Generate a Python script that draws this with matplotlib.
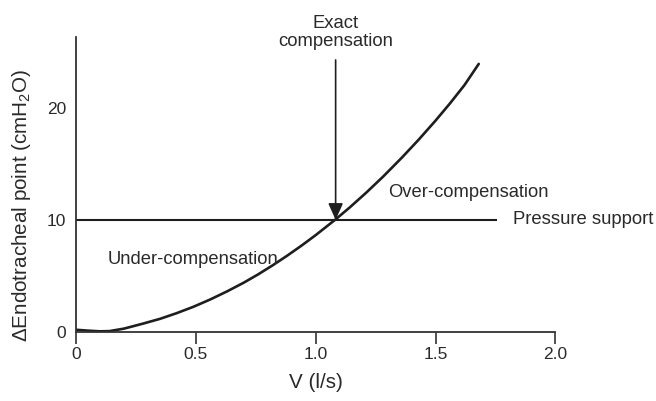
import numpy as np
import matplotlib
matplotlib.use("Agg")
import matplotlib.pyplot as plt

# values
flow = [0.0, 0.05, 0.1, 0.14, 0.2, 0.28, 0.35, 0.42, 0.49, 0.56, 0.63, 0.7, 0.76,
        0.82, 0.88, 0.94, 1.0, 1.08, 1.14, 1.21, 1.28, 1.36, 1.43, 1.5, 1.56, 1.62, 1.68]
pressure = [0.2, 0.12, 0.06, 0.08, 0.3, 0.75, 1.17, 1.68, 2.25, 2.9, 3.62, 4.4, 5.14,
            5.94, 6.79, 7.69, 8.64, 9.99, 11.07, 12.41, 13.83, 15.56, 17.16, 18.85,
            20.38, 22.0, 23.9]
support_level = 10
support_end = 1.752
exact_x = 1.083
arrow_top = 24.25

xticks = [0, 0.5, 1.0, 1.5, 2.0]
xticklabels = ["0", "0.5", "1.0", "1.5", "2.0"]
yticks = [0, 10, 20]

plt.rcParams["font.family"] = ["Liberation Sans", "DejaVu Sans"]
plt.rcParams["mathtext.fontset"] = "custom"
plt.rcParams["mathtext.rm"] = "Liberation Sans"
plt.rcParams["mathtext.it"] = "Liberation Sans:italic"
ink = "#1e1e1e"
txt = "#2a2a2a"

fig = plt.figure(figsize=(6.56, 4.01), dpi=100)
ax = fig.add_axes([0.11585, 0.17207, 0.7309, 0.7357])

ax.plot(flow, pressure, color=ink, lw=1.9, solid_capstyle="round")
ax.plot([0, support_end], [support_level, support_level], color=ink, lw=1.5)

ax.annotate("", xy=(exact_x, support_level), xytext=(exact_x, arrow_top),
            arrowprops=dict(arrowstyle="-|>,head_length=1.0,head_width=0.45",
                            mutation_scale=10, color=ink, lw=1.2,
                            shrinkA=0, shrinkB=0))
ax.text(exact_x, 25.1, "Exact\ncompensation", ha="center", va="bottom",
        fontsize=13.3, color=txt, linespacing=1.1, clip_on=False)

ax.text(0.132, 6.06, "Under-compensation", ha="left", va="baseline",
        fontsize=13.2, color=txt)
ax.text(1.304, 12.04, "Over-compensation", ha="left", va="baseline",
        fontsize=13.2, color=txt)
ax.text(1.824, 9.63, "Pressure support", ha="left", va="baseline",
        fontsize=13.3, color=txt, clip_on=False)

ax.set_xlim(0, 2.0)
ax.set_ylim(0, 26.3)
for s in ["top", "right"]:
    ax.spines[s].set_visible(False)
for s in ["left", "bottom"]:
    ax.spines[s].set_linewidth(1.3)
    ax.spines[s].set_color("#333333")

ax.set_xticks(xticks)
ax.set_xticklabels(xticklabels)
ax.set_yticks(yticks)
ax.tick_params(axis="x", direction="out", length=8.6, width=1.2, color="#333333",
               labelsize=12.5, labelcolor=txt, pad=2)
ax.tick_params(axis="y", length=0, labelsize=12.5, labelcolor=txt, pad=7)

fig.text(315.5 / 656, 1 - 382 / 401, "V (l/s)", ha="center", va="center",
         fontsize=14.9, color=txt)
fig.text(22 / 656, 1 - 205 / 401, r"$\Delta$Endotracheal point (cmH$_2$O)",
         ha="center", va="center", rotation=90, fontsize=14.9, color=txt)

fig.savefig("out.png", dpi=100)
